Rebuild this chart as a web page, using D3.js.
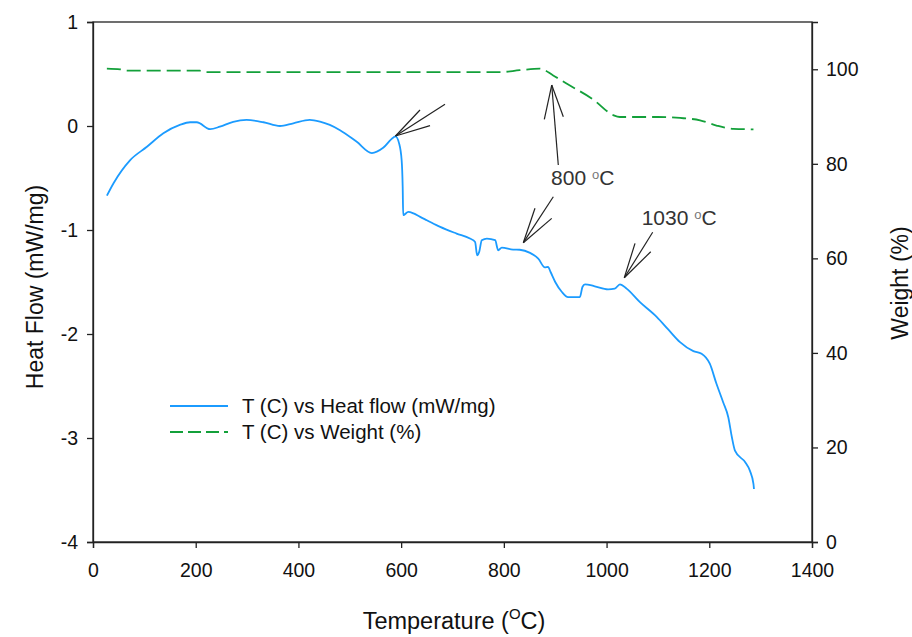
<!DOCTYPE html>
<html>
<head>
<meta charset="utf-8">
<script src="https://cdn.jsdelivr.net/npm/d3@7"></script>
<style>
  html, body { margin: 0; padding: 0; background: #fff; }
  svg { display: block; font-family: "Liberation Sans", Arial, sans-serif; }
</style>
</head>
<body>
<svg id="chart" width="912" height="637"></svg>
<script>
// ---- data ----
const hfTemp = [27, 40, 72, 105, 137, 169, 189, 202, 228, 247, 273, 299, 332, 364, 390, 422, 442, 481, 513, 543, 565, 585, 589,
  596, 601, 603, 604, 614, 624, 637, 650, 676, 708, 734, 744, 748, 752, 757, 767, 783, 789, 796, 818, 831, 851, 867, 880, 886, 891,
  900, 913, 925, 948, 953, 958, 977, 1003, 1016, 1026, 1039, 1065, 1098, 1120, 1143, 1169, 1185, 1201, 1214, 1227, 1237, 1244,
  1250, 1270, 1279, 1286, 1287];
const hfValue = [-0.67, -0.55, -0.33, -0.20, -0.07, 0.01, 0.036, 0.036, -0.03, -0.007, 0.04, 0.058, 0.036, 0.0, 0.026, 0.058, 0.041,
  -0.04, -0.15, -0.26, -0.21, -0.11, -0.10,
  -0.167, -0.33, -0.585, -0.857, -0.826, -0.84, -0.874, -0.906, -0.97, -1.034, -1.082, -1.115, -1.243, -1.21, -1.098, -1.082,
  -1.098, -1.195, -1.169, -1.188, -1.19, -1.22, -1.275, -1.36, -1.355, -1.404, -1.5, -1.596, -1.645, -1.645, -1.548, -1.522,
  -1.541, -1.57, -1.564, -1.522, -1.564, -1.693, -1.837, -1.956, -2.078, -2.165, -2.19, -2.286, -2.479, -2.656, -2.8, -2.993,
  -3.121, -3.234, -3.314, -3.442, -3.49];

const wTemp = [27, 53, 66, 208, 218, 792, 831, 870, 896, 922, 974, 1013, 1026, 1100, 1143, 1182, 1214, 1247, 1286];
const wValue = [100.15, 100.0, 99.7, 99.7, 99.4, 99.4, 99.8, 100.15, 98.7, 96.97, 93.6, 90.3, 89.9, 89.9, 89.7, 89.2, 88.1, 87.4, 87.3];

const xTicks = [0, 200, 400, 600, 800, 1000, 1200, 1400];
const hfTicks = [-4, -3, -2, -1, 0, 1];
const wTicks = [0, 20, 40, 60, 80, 100];

const seriesNames = ["T (C) vs Heat flow (mW/mg)", "T (C) vs Weight (%)"];

// annotations: tip, shaft end, two barbs in (T, heat flow) coordinates
const arrows = [
  { tip: [589, -0.096], ends: [[685.4, 0.209], [636.7, 0.154], [656.2, 0.003]] },
  { tip: [893.2, 0.394], ends: [[906, -0.375], [878.8, 0.064], [915.8, 0.089]] },
  { tip: [837.9, -1.122], ends: [[896.3, -0.68], [860.6, -0.791], [893.2, -0.888]] },
  { tip: [1034.5, -1.459], ends: [[1089.8, -1.022], [1055.4, -1.128], [1086, -1.209]] }
];
const labels = [
  { text: "800", at: [892, -0.567] },
  { text: "1030", at: [1068.3, -0.952] }
];

// ---- layout ----
const svg = d3.select("#chart");
const L = 93, R = 812, T = 22, B = 542;

const x = d3.scaleLinear().domain([0, 1400]).range([L, R]);
const yHF = d3.scaleLinear().domain([-4, 1]).range([B, T]);
const yW = d3.scaleLinear().domain([0, 110]).range([B, T]);

const blue = "#1b9bff";
const green = "#13a03a";
const axisColor = "#222";
const fmt = d => String(d);

// frame
svg.append("rect").attr("x", L).attr("y", T).attr("width", R - L).attr("height", B - T)
  .attr("fill", "none").attr("stroke", axisColor).attr("stroke-width", 1.3);

function styleAxis(g) {
  g.select(".domain").attr("stroke", axisColor).attr("stroke-width", 1.3);
  g.selectAll(".tick line").attr("stroke", axisColor).attr("stroke-width", 1.3);
  g.selectAll(".tick text").attr("fill", "#111").style("font-size", "19.5px")
    .style("font-family", "'Liberation Sans', Arial, sans-serif");
}

svg.append("g").attr("transform", `translate(0,${B})`)
  .call(d3.axisBottom(x).tickValues(xTicks).tickFormat(fmt).tickSize(6).tickPadding(15))
  .call(styleAxis);

svg.append("g").attr("transform", `translate(${L},0)`)
  .call(d3.axisLeft(yHF).tickValues(hfTicks).tickFormat(fmt).tickSize(6).tickPadding(9))
  .call(styleAxis);

svg.append("g").attr("transform", `translate(${R},0)`)
  .call(d3.axisRight(yW).tickValues(wTicks).tickFormat(fmt).tickSize(6).tickPadding(8))
  .call(styleAxis);

// axis titles
svg.append("text").attr("transform", `translate(43,287) rotate(-90)`)
  .attr("text-anchor", "middle").style("font-size", "23px").attr("fill", "#111")
  .text("Heat Flow (mW/mg)");

svg.append("text").attr("transform", `translate(908,283) rotate(-90)`)
  .attr("text-anchor", "middle").style("font-size", "23px").attr("fill", "#111")
  .text("Weight (%)");

const xt = svg.append("text").attr("x", 454).attr("y", 629).attr("text-anchor", "middle")
  .style("font-size", "23.5px").attr("fill", "#111");
xt.append("tspan").text("Temperature (");
xt.append("tspan").attr("dy", -10).style("font-size", "15px").text("O");
xt.append("tspan").attr("dy", 10).text("C)");

// lines
const hfData = hfTemp.map((t, i) => [t, hfValue[i]]);
const wData = wTemp.map((t, i) => [t, wValue[i]]);

svg.append("path").datum(wData)
  .attr("fill", "none").attr("stroke", green).attr("stroke-width", 1.8)
  .attr("stroke-dasharray", "14,6")
  .attr("d", d3.line().x(d => x(d[0])).y(d => yW(d[1])).curve(d3.curveMonotoneX));

svg.append("path").datum(hfData)
  .attr("fill", "none").attr("stroke", blue).attr("stroke-width", 1.8)
  .attr("d", d3.line().x(d => x(d[0])).y(d => yHF(d[1])).curve(d3.curveMonotoneX));

// annotations
const ag = svg.append("g").attr("stroke", "#222").attr("stroke-width", 1.2);
arrows.forEach(a => {
  a.ends.forEach(e => {
    ag.append("line").attr("x1", x(a.tip[0])).attr("y1", yHF(a.tip[1]))
      .attr("x2", x(e[0])).attr("y2", yHF(e[1]));
  });
});
labels.forEach(l => {
  const t = svg.append("text").attr("x", x(l.at[0])).attr("y", yHF(l.at[1]))
    .style("font-size", "21px").attr("fill", "#333");
  t.append("tspan").text(l.text + " ");
  t.append("tspan").attr("fill", "#777").attr("dy", -6).style("font-size", "13px").text("o");
  t.append("tspan").attr("dy", 6).text("C");
});

// legend
const lg = svg.append("g");
lg.append("line").attr("x1", 170).attr("x2", 228).attr("y1", 406).attr("y2", 406)
  .attr("stroke", blue).attr("stroke-width", 1.8);
lg.append("line").attr("x1", 170).attr("x2", 228).attr("y1", 432).attr("y2", 432)
  .attr("stroke", green).attr("stroke-width", 1.8).attr("stroke-dasharray", "13,5");
seriesNames.forEach((n, i) => {
  lg.append("text").attr("x", 242).attr("y", 413 + i * 26).style("font-size", "20.5px").attr("fill", "#111").text(n);
});
</script>
</body>
</html>
